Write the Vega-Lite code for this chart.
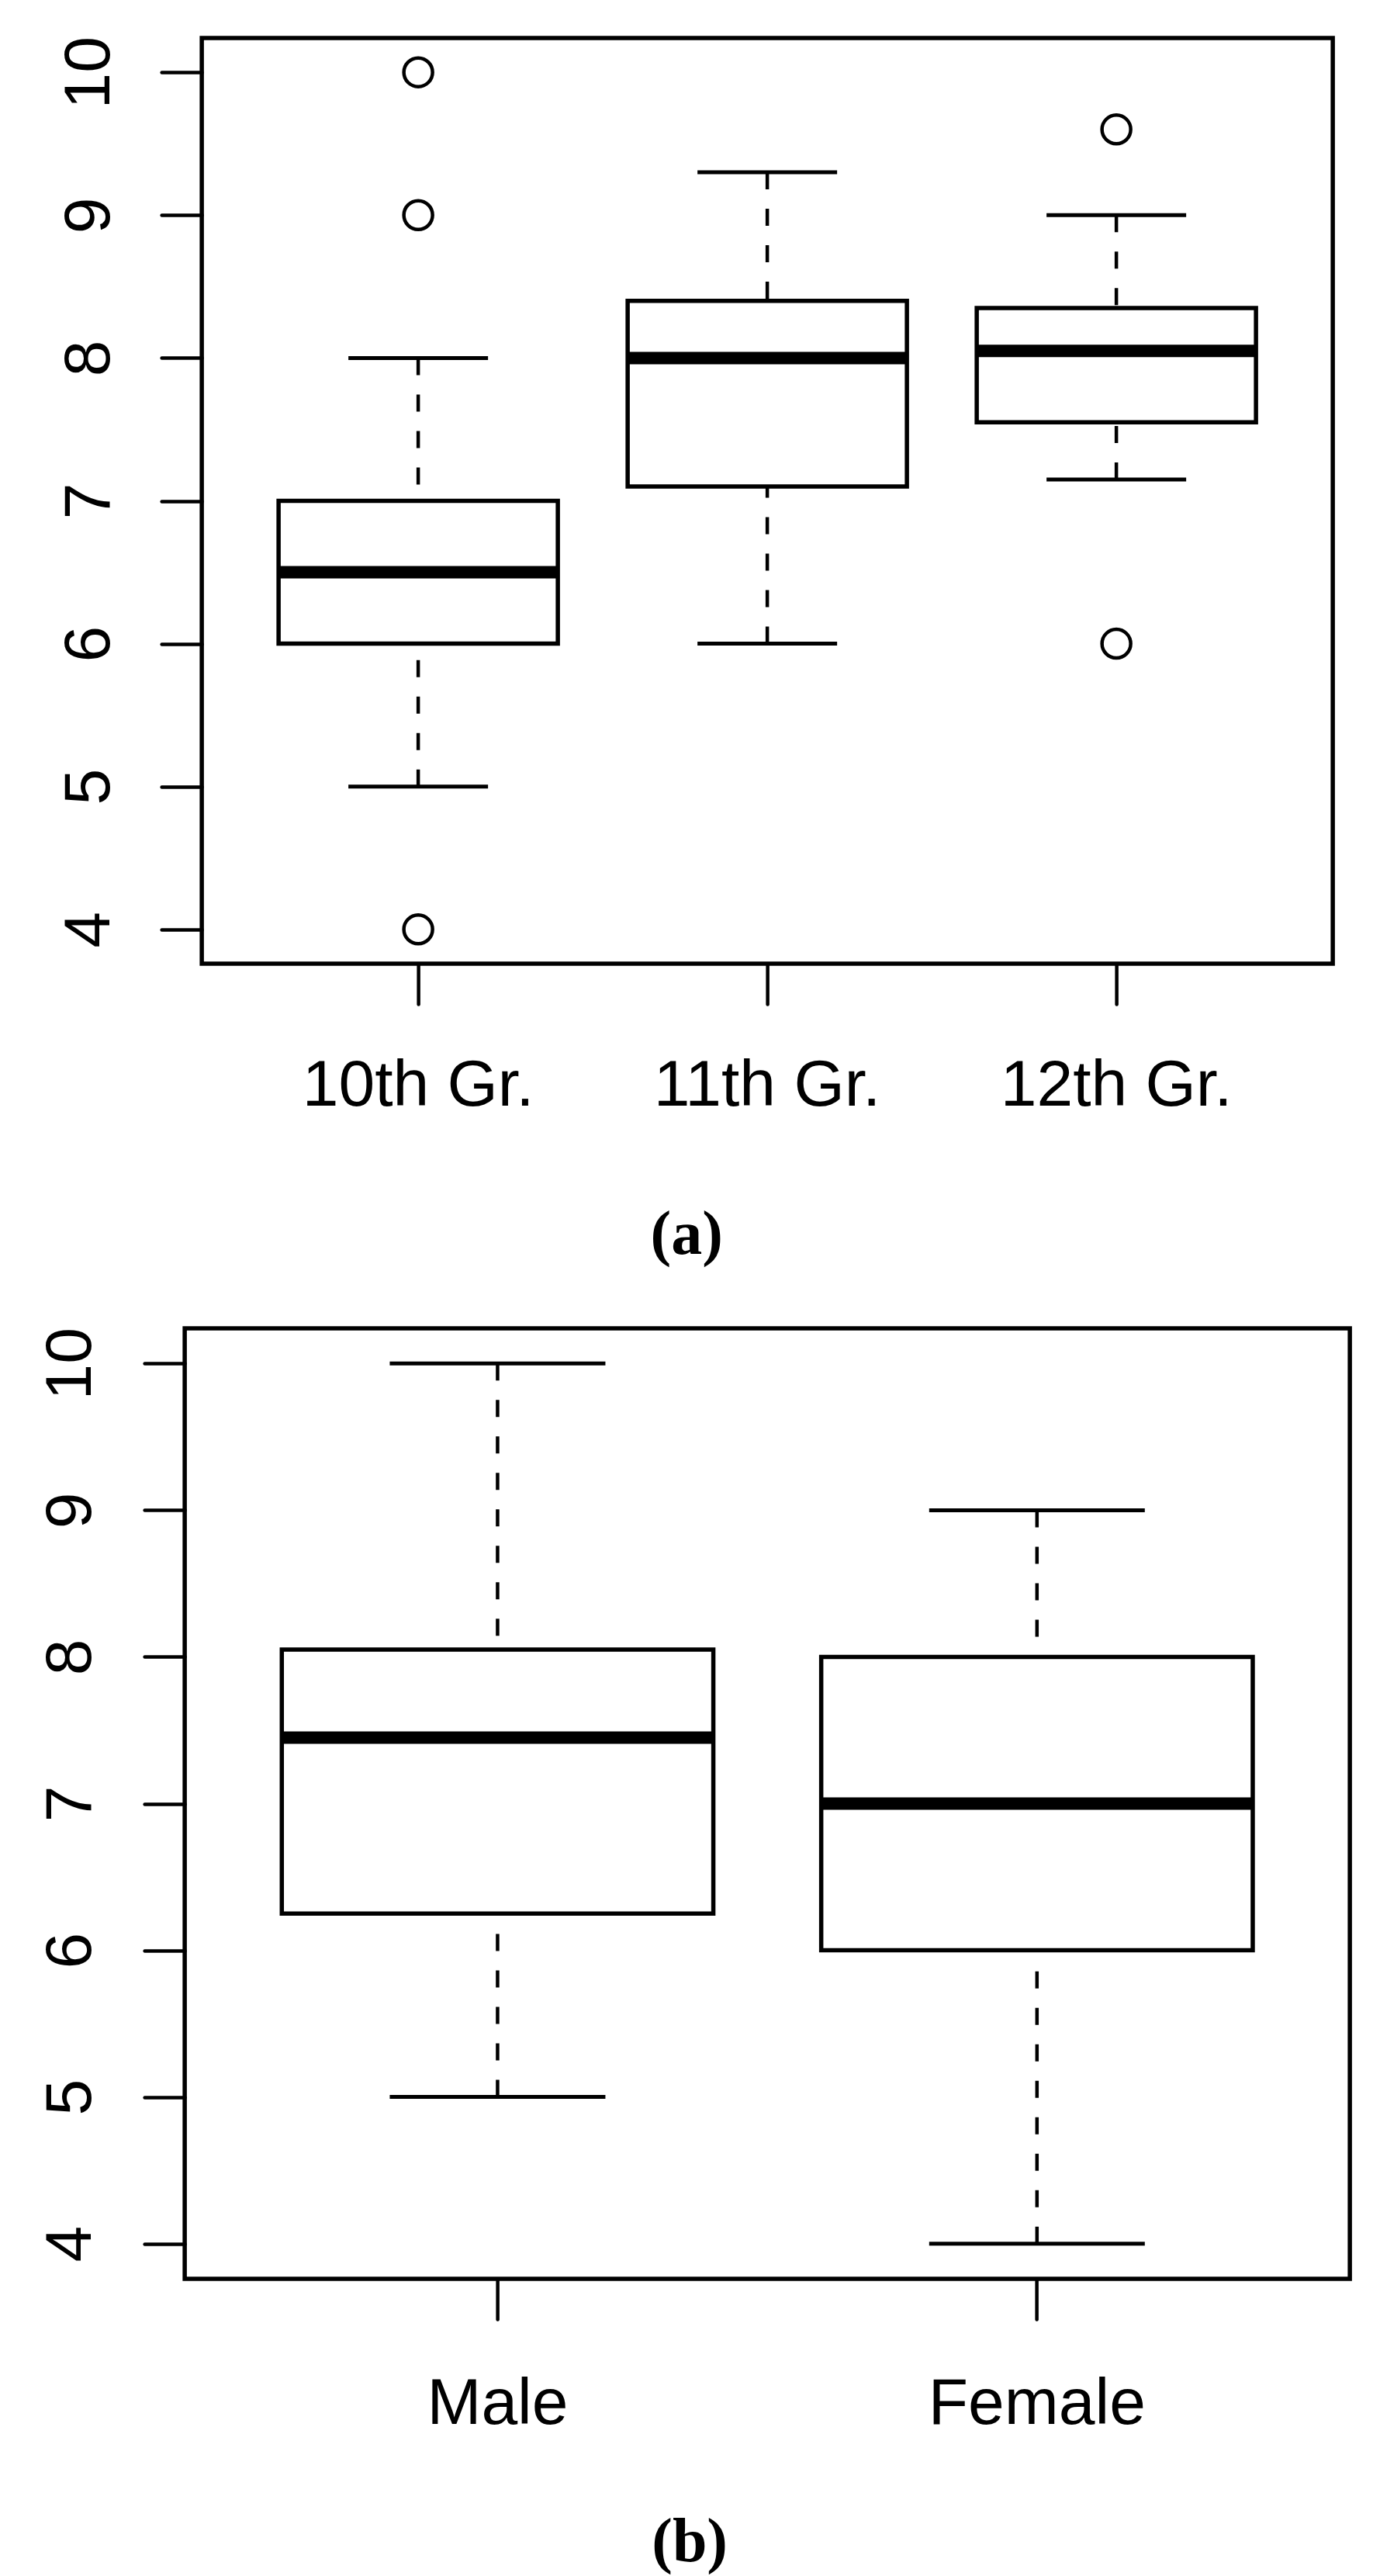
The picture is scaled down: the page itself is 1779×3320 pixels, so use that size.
{
  "$schema": "https://vega.github.io/schema/vega-lite/v6.json",
  "background": "white",
  "padding": {"left": 46, "top": 43, "right": 5, "bottom": 5},
  "spacing": 72,
  "center": true,
  "config": {
    "view": {"stroke": "black", "strokeWidth": 5.5},
    "axis": {"domain": false, "grid": false, "tickColor": "black", "labelColor": "black", "labelFont": "Liberation Sans", "labelFontSize": 84, "labelLimit": 0, "tickSize": 52, "tickWidth": 4.5, "tickCap": "round"},
    "title": {"font": "Liberation Serif", "fontSize": 80, "fontWeight": "bold", "color": "black", "orient": "bottom", "anchor": "middle"}
  },
  "datasets": {
    "grade": [
      {"group": "10th Gr.", "lower": 5, "q1": 6, "median": 6.5, "q3": 7, "upper": 8},
      {"group": "11th Gr.", "lower": 6, "q1": 7.1, "median": 8, "q3": 8.4, "upper": 9.3},
      {"group": "12th Gr.", "lower": 7.15, "q1": 7.55, "median": 8.05, "q3": 8.35, "upper": 9}
    ],
    "grade_out": [
      {"group": "10th Gr.", "value": 10},
      {"group": "10th Gr.", "value": 9},
      {"group": "10th Gr.", "value": 4},
      {"group": "12th Gr.", "value": 9.6},
      {"group": "12th Gr.", "value": 6}
    ],
    "sex": [
      {"group": "Male", "lower": 5, "q1": 6.25, "median": 7.45, "q3": 8.05, "upper": 10},
      {"group": "Female", "lower": 4, "q1": 6, "median": 7, "q3": 8, "upper": 9}
    ]
  },
  "vconcat": [
    {
      "width": 1458,
      "height": 1193,
      "title": {"text": "(a)", "dx": -104, "offset": 112},
      "data": {"name": "grade"},
      "encoding": {
        "x": {"field": "group", "type": "nominal", "sort": ["10th Gr.", "11th Gr.", "12th Gr."],
              "scale": {"paddingInner": 0.2, "paddingOuter": 0.22},
              "axis": {"title": null, "labelAngle": 0, "labelPadding": 64, "labelBaseline": "top", "labelAlign": "center"}}
      },
      "layer": [
        {
          "mark": {"type": "rule", "color": "black", "strokeWidth": 4.5, "strokeDash": [22, 25]},
          "encoding": {
            "y": {"field": "upper", "type": "quantitative",
                  "scale": {"domain": [3.76, 10.24], "nice": false, "zero": false},
                  "axis": {"values": [4, 5, 6, 7, 8, 9, 10], "title": null, "labelAngle": -90, "labelAlign": "center", "labelBaseline": "alphabetic", "labelPadding": 68}},
            "y2": {"field": "q3"}
          }
        },
        {
          "mark": {"type": "rule", "color": "black", "strokeWidth": 4.5, "strokeDash": [22, 25]},
          "encoding": {
            "y": {"field": "lower", "type": "quantitative",
                  "axis": {"values": [4, 5, 6, 7, 8, 9, 10], "title": null, "labelAngle": -90, "labelAlign": "center", "labelBaseline": "alphabetic", "labelPadding": 68}},
            "y2": {"field": "q1"}
          }
        },
        {
          "mark": {"type": "tick", "color": "black", "opacity": 1, "size": 180, "thickness": 5},
          "encoding": {"y": {"field": "upper", "type": "quantitative",
                  "axis": {"values": [4, 5, 6, 7, 8, 9, 10], "title": null, "labelAngle": -90, "labelAlign": "center", "labelBaseline": "alphabetic", "labelPadding": 68}}}
        },
        {
          "mark": {"type": "tick", "color": "black", "opacity": 1, "size": 180, "thickness": 5},
          "encoding": {"y": {"field": "lower", "type": "quantitative",
                  "axis": {"values": [4, 5, 6, 7, 8, 9, 10], "title": null, "labelAngle": -90, "labelAlign": "center", "labelBaseline": "alphabetic", "labelPadding": 68}}}
        },
        {
          "mark": {"type": "bar", "fill": "white", "stroke": "black", "strokeWidth": 5.5},
          "encoding": {
            "y": {"field": "q1", "type": "quantitative",
                  "axis": {"values": [4, 5, 6, 7, 8, 9, 10], "title": null, "labelAngle": -90, "labelAlign": "center", "labelBaseline": "alphabetic", "labelPadding": 68}},
            "y2": {"field": "q3"}
          }
        },
        {
          "mark": {"type": "tick", "color": "black", "opacity": 1, "size": 360, "thickness": 16},
          "encoding": {"y": {"field": "median", "type": "quantitative",
                  "axis": {"values": [4, 5, 6, 7, 8, 9, 10], "title": null, "labelAngle": -90, "labelAlign": "center", "labelBaseline": "alphabetic", "labelPadding": 68}}}
        },
        {
          "data": {"name": "grade_out"},
          "mark": {"type": "point", "shape": "circle", "filled": false, "size": 1370, "strokeWidth": 4.5, "color": "black", "opacity": 1},
          "encoding": {"y": {"field": "value", "type": "quantitative",
                  "axis": {"values": [4, 5, 6, 7, 8, 9, 10], "title": null, "labelAngle": -90, "labelAlign": "center", "labelBaseline": "alphabetic", "labelPadding": 68}}}
        }
      ]
    },
    {
      "width": 1502,
      "height": 1225,
      "title": {"text": "(b)", "dx": -100, "offset": 98},
      "data": {"name": "sex"},
      "encoding": {
        "x": {"field": "group", "type": "nominal", "sort": ["Male", "Female"],
              "scale": {"paddingInner": 0.2, "paddingOuter": 0.18},
              "axis": {"title": null, "labelAngle": 0, "labelPadding": 68, "labelBaseline": "top", "labelAlign": "center"}}
      },
      "layer": [
        {
          "mark": {"type": "rule", "color": "black", "strokeWidth": 4.5, "strokeDash": [22, 25]},
          "encoding": {
            "y": {"field": "upper", "type": "quantitative",
                  "scale": {"domain": [3.76, 10.24], "nice": false, "zero": false},
                  "axis": {"values": [4, 5, 6, 7, 8, 9, 10], "title": null, "labelAngle": -90, "labelAlign": "center", "labelBaseline": "alphabetic", "labelPadding": 70}},
            "y2": {"field": "q3"}
          }
        },
        {
          "mark": {"type": "rule", "color": "black", "strokeWidth": 4.5, "strokeDash": [22, 25]},
          "encoding": {
            "y": {"field": "lower", "type": "quantitative",
                  "axis": {"values": [4, 5, 6, 7, 8, 9, 10], "title": null, "labelAngle": -90, "labelAlign": "center", "labelBaseline": "alphabetic", "labelPadding": 70}},
            "y2": {"field": "q1"}
          }
        },
        {
          "mark": {"type": "tick", "color": "black", "opacity": 1, "size": 278, "thickness": 5},
          "encoding": {"y": {"field": "upper", "type": "quantitative",
                  "axis": {"values": [4, 5, 6, 7, 8, 9, 10], "title": null, "labelAngle": -90, "labelAlign": "center", "labelBaseline": "alphabetic", "labelPadding": 70}}}
        },
        {
          "mark": {"type": "tick", "color": "black", "opacity": 1, "size": 278, "thickness": 5},
          "encoding": {"y": {"field": "lower", "type": "quantitative",
                  "axis": {"values": [4, 5, 6, 7, 8, 9, 10], "title": null, "labelAngle": -90, "labelAlign": "center", "labelBaseline": "alphabetic", "labelPadding": 70}}}
        },
        {
          "mark": {"type": "bar", "fill": "white", "stroke": "black", "strokeWidth": 5.5},
          "encoding": {
            "y": {"field": "q1", "type": "quantitative",
                  "axis": {"values": [4, 5, 6, 7, 8, 9, 10], "title": null, "labelAngle": -90, "labelAlign": "center", "labelBaseline": "alphabetic", "labelPadding": 70}},
            "y2": {"field": "q3"}
          }
        },
        {
          "mark": {"type": "tick", "color": "black", "opacity": 1, "size": 556, "thickness": 16},
          "encoding": {"y": {"field": "median", "type": "quantitative",
                  "axis": {"values": [4, 5, 6, 7, 8, 9, 10], "title": null, "labelAngle": -90, "labelAlign": "center", "labelBaseline": "alphabetic", "labelPadding": 70}}}
        }
      ]
    }
  ]
}
